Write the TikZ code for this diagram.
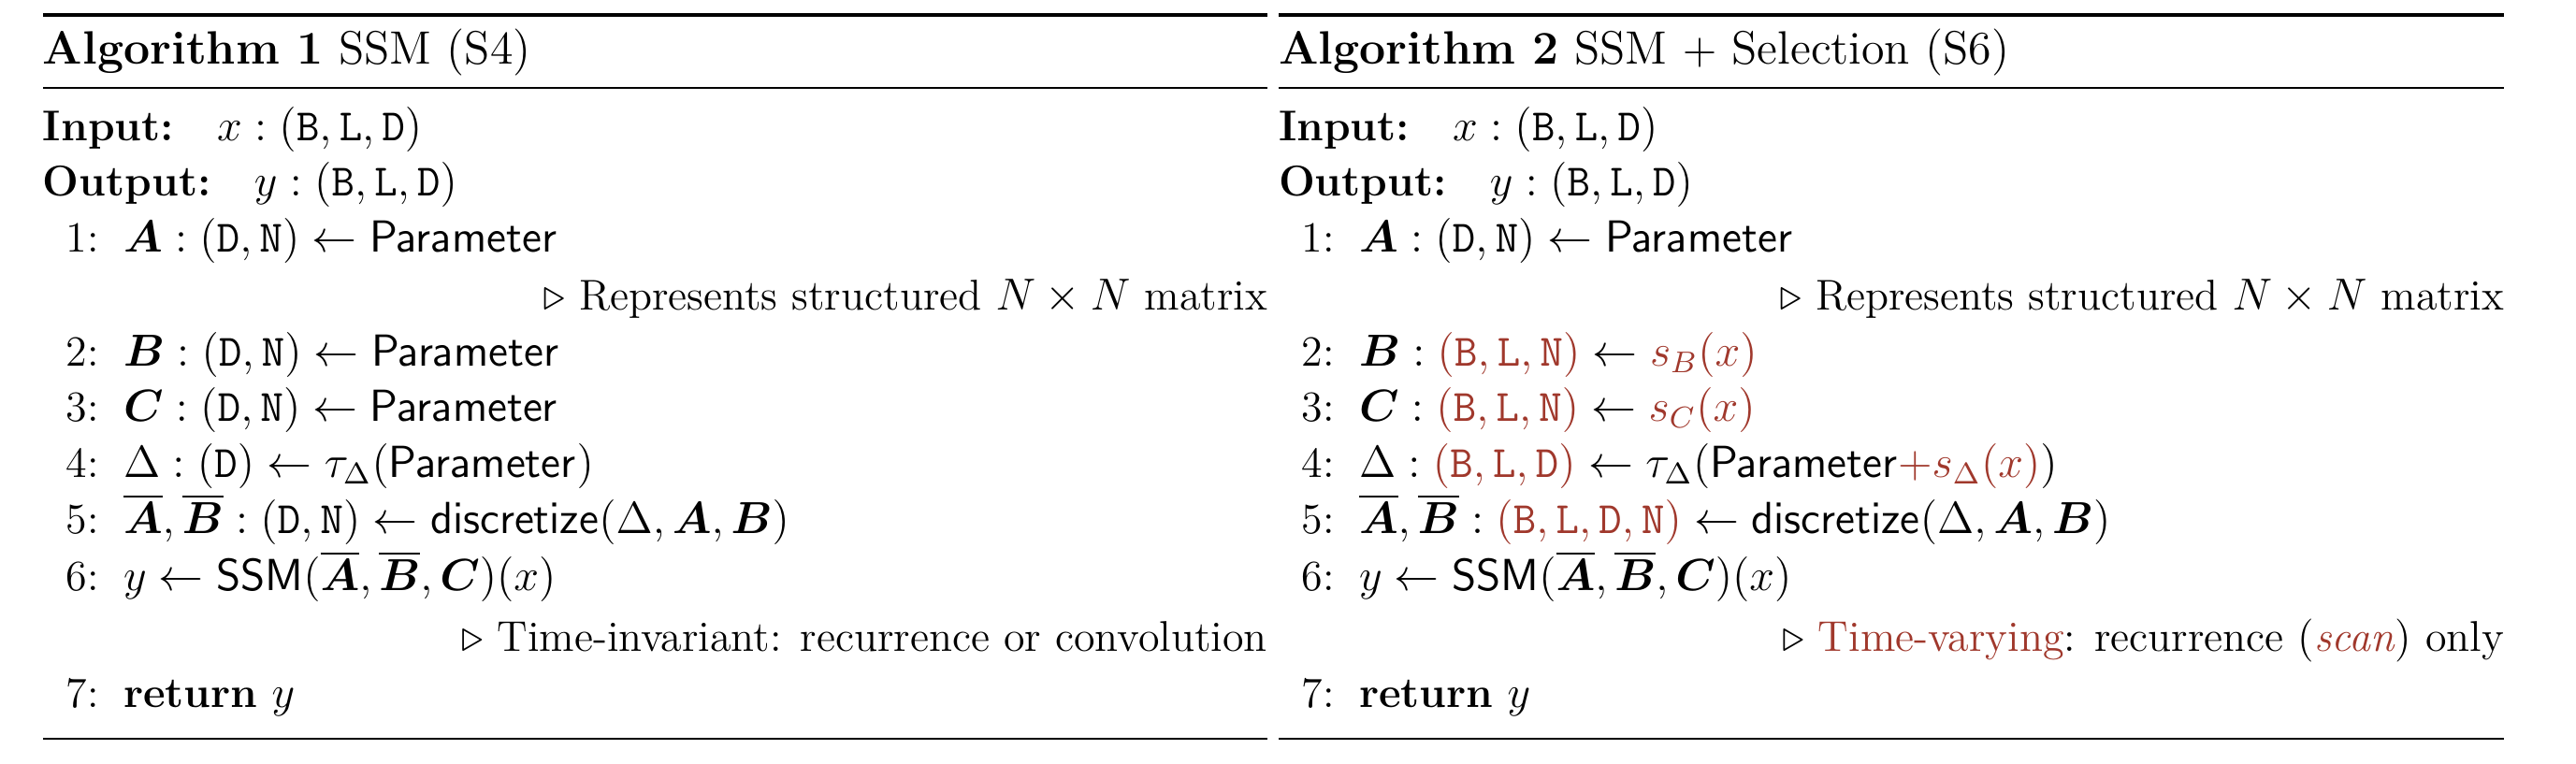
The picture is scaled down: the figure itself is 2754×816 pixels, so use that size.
\documentclass[tikz,border=0pt]{standalone}
\usepackage{amsmath,amssymb}
\usepackage{bm}
\definecolor{selred}{RGB}{160,56,44}
\newcommand{\sr}[1]{\textcolor{selred}{#1}}
\newcommand{\algbody}{\fontsize{11.5}{13.8}\selectfont}
\newcommand{\algtitle}{\fontsize{12.5}{15}\selectfont}
\begin{document}
\begin{tikzpicture}[x=0.25pt,y=-0.25pt,
  txt/.style={anchor=base west,inner sep=0pt,outer sep=0pt,font=\algbody},
  lnum/.style={anchor=base east,inner sep=0pt,outer sep=0pt,font=\algbody},
  cmt/.style={anchor=base east,inner sep=0pt,outer sep=0pt,font=\algbody},
  ttl/.style={anchor=base west,inner sep=0pt,outer sep=0pt,font=\algtitle},
  toprule/.style={line width=1.2pt},
  midrule/.style={line width=0.7pt},
  botrule/.style={line width=0.7pt}]
\useasboundingbox (0,0) rectangle (2754,816);
% ---------------- Algorithm 1 ----------------
\draw[toprule] (46,16) -- (1355,16);
\node[ttl] (t1) at (46,68) {\textbf{Algorithm 1} SSM (S4)};
\draw[midrule] (46,94) -- (1355,94);
\node[txt] (in1) at (46,150) {\textbf{Input:}\quad $x : (\mathtt{B},\mathtt{L},\mathtt{D})$};
\node[txt] (out1) at (46,209) {\textbf{Output:}\quad $y : (\mathtt{B},\mathtt{L},\mathtt{D})$};
\node[lnum] (n11) at (106,269) {1:};
\node[txt] (s11) at (132,269) {$\bm{A} : (\mathtt{D},\mathtt{N}) \leftarrow \mathsf{Parameter}$};
\node[cmt] (c11) at (1355,331) {$\triangleright$ Represents structured $N \times N$ matrix};
\node[lnum] (n12) at (106,391) {2:};
\node[txt] (s12) at (132,391) {$\bm{B} : (\mathtt{D},\mathtt{N}) \leftarrow \mathsf{Parameter}$};
\node[lnum] (n13) at (106,450) {3:};
\node[txt] (s13) at (132,450) {$\bm{C} : (\mathtt{D},\mathtt{N}) \leftarrow \mathsf{Parameter}$};
\node[lnum] (n14) at (106,510) {4:};
\node[txt] (s14) at (132,510) {$\Delta : (\mathtt{D}) \leftarrow \tau_{\Delta}(\mathsf{Parameter})$};
\node[lnum] (n15) at (106,570) {5:};
\node[txt] (s15) at (132,570) {$\overline{\bm{A}}, \overline{\bm{B}} : (\mathtt{D},\mathtt{N}) \leftarrow \mathsf{discretize}(\Delta, \bm{A}, \bm{B})$};
\node[lnum] (n16) at (106,631) {6:};
\node[txt] (s16) at (132,631) {$y \leftarrow \mathsf{SSM}(\overline{\bm{A}}, \overline{\bm{B}}, \bm{C})(x)$};
\node[cmt] (c16) at (1355,696) {$\triangleright$ Time-invariant: recurrence or convolution};
\node[lnum] (n17) at (106,756) {7:};
\node[txt] (s17) at (132,756) {\textbf{return} $y$};
\draw[botrule] (46,790) -- (1355,790);
% ---------------- Algorithm 2 ----------------
\draw[toprule] (1367,16) -- (2677,16);
\node[ttl] (t2) at (1367,68) {\textbf{Algorithm 2} SSM $+$ Selection (S6)};
\draw[midrule] (1367,94) -- (2677,94);
\node[txt] (in2) at (1367,150) {\textbf{Input:}\quad $x : (\mathtt{B},\mathtt{L},\mathtt{D})$};
\node[txt] (out2) at (1367,209) {\textbf{Output:}\quad $y : (\mathtt{B},\mathtt{L},\mathtt{D})$};
\node[lnum] (n21) at (1427,269) {1:};
\node[txt] (s21) at (1453,269) {$\bm{A} : (\mathtt{D},\mathtt{N}) \leftarrow \mathsf{Parameter}$};
\node[cmt] (c21) at (2677,331) {$\triangleright$ Represents structured $N \times N$ matrix};
\node[lnum] (n22) at (1427,391) {2:};
\node[txt] (s22) at (1453,391) {$\bm{B} : \sr{(\mathtt{B},\mathtt{L},\mathtt{N})} \leftarrow \sr{s_B(x)}$};
\node[lnum] (n23) at (1427,450) {3:};
\node[txt] (s23) at (1453,450) {$\bm{C} : \sr{(\mathtt{B},\mathtt{L},\mathtt{N})} \leftarrow \sr{s_C(x)}$};
\node[lnum] (n24) at (1427,510) {4:};
\node[txt] (s24) at (1453,510) {$\Delta : \sr{(\mathtt{B},\mathtt{L},\mathtt{D})} \leftarrow \tau_{\Delta}(\mathsf{Parameter}\sr{+s_{\Delta}(x)})$};
\node[lnum] (n25) at (1427,570) {5:};
\node[txt] (s25) at (1453,570) {$\overline{\bm{A}}, \overline{\bm{B}} : \sr{(\mathtt{B},\mathtt{L},\mathtt{D},\mathtt{N})} \leftarrow \mathsf{discretize}(\Delta, \bm{A}, \bm{B})$};
\node[lnum] (n26) at (1427,631) {6:};
\node[txt] (s26) at (1453,631) {$y \leftarrow \mathsf{SSM}(\overline{\bm{A}}, \overline{\bm{B}}, \bm{C})(x)$};
\node[cmt] (c26) at (2677,696) {$\triangleright$ \sr{Time-varying}: recurrence (\sr{\emph{scan}}) only};
\node[lnum] (n27) at (1427,756) {7:};
\node[txt] (s27) at (1453,756) {\textbf{return} $y$};
\draw[botrule] (1367,790) -- (2677,790);
\end{tikzpicture}
\end{document}
